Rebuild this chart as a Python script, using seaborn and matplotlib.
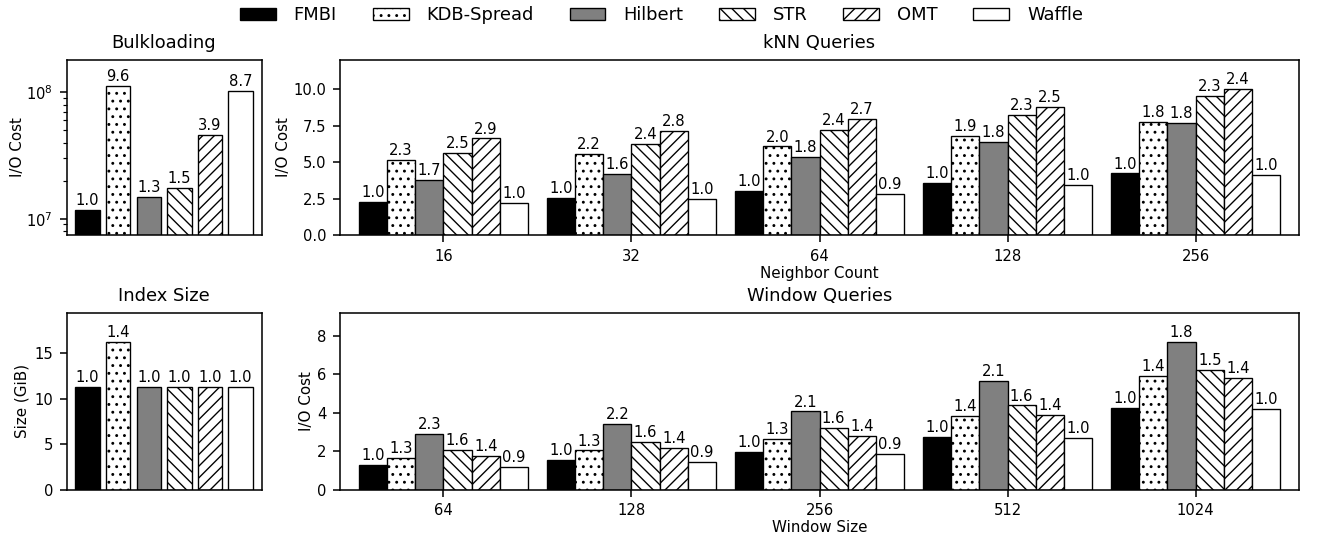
import matplotlib.pyplot as plt
import seaborn as sns
import pandas as pd
from matplotlib.patches import Patch
from matplotlib.ticker import MultipleLocator

methods = ['FMBI', 'KDB-Spread', 'Hilbert', 'STR', 'OMT', 'Waffle']

# bulkloading I/O cost (log scale) and index size in GiB
bulk_cost = [1.17e7, 1.129e8, 1.48e7, 1.766e7, 4.60e7, 1.018e8]
index_size = [11.34, 16.2, 11.3, 11.3, 11.3, 11.3]

# kNN queries, I/O cost per neighbor count
neighbor_counts = ['16', '32', '64', '128', '256']
knn_cost = {
    'FMBI':       [2.26, 2.55, 2.99, 3.54, 4.22],
    'KDB-Spread': [5.16, 5.53, 6.07, 6.80, 7.72],
    'Hilbert':    [3.77, 4.16, 5.32, 6.37, 7.67],
    'STR':        [5.64, 6.21, 7.19, 8.22, 9.54],
    'OMT':        [6.62, 7.15, 7.95, 8.81, 10.0],
    'Waffle':     [2.19, 2.44, 2.81, 3.40, 4.11],
}

# window queries, I/O cost per window size
window_sizes = ['64', '128', '256', '512', '1024']
window_cost = {
    'FMBI':       [1.27, 1.53, 1.97, 2.74, 4.25],
    'KDB-Spread': [1.66, 2.03, 2.63, 3.83, 5.91],
    'Hilbert':    [2.88, 3.41, 4.06, 5.65, 7.65],
    'STR':        [2.05, 2.47, 3.19, 4.37, 6.20],
    'OMT':        [1.74, 2.18, 2.79, 3.89, 5.80],
    'Waffle':     [1.19, 1.43, 1.85, 2.68, 4.20],
}

colors = ['black', 'white', 'gray', 'white', 'white', 'white']
hatches = ['', '...', '', '\\\\\\\\', '////', '']

plt.rcParams['hatch.linewidth'] = 0.7
TICK_FS = 7.6
BAR_FS = 7.6
LABEL_FS = 7.8
TITLE_FS = 9.2


def style_bars(ax):
    # ax.containers: one container per method (hue level)
    for i, cont in enumerate(ax.containers):
        for bar in cont:
            bar.set_hatch(hatches[i])
            bar.set_edgecolor('black')
            bar.set_linewidth(0.7)


def single_panel(ax, values, title, ylabel, ypad=1.5):
    df = pd.DataFrame({'method': methods, 'value': values})
    sns.barplot(data=df, x='method', y='value', hue='method', palette=colors,
                width=0.8, saturation=1, errorbar=None, legend=False, ax=ax)
    style_bars(ax)
    for cont, v in zip(ax.containers, values):
        ax.bar_label(cont, labels=[f'{v / values[0]:.1f}'], padding=1, fontsize=BAR_FS)
    ax.set_xlim(-0.69, 5.69)
    ax.set_xticks([])
    ax.set_xlabel('')
    ax.set_ylabel(ylabel, fontsize=LABEL_FS, labelpad=ypad)
    ax.set_title(title, fontsize=TITLE_FS)
    ax.tick_params(labelsize=TICK_FS)


def group_panel(ax, cats, data, title, xlabel):
    rows = []
    for m in methods:
        for c, v in zip(cats, data[m]):
            rows.append({'cat': c, 'method': m, 'value': v})
    df = pd.DataFrame(rows)
    sns.barplot(data=df, x='cat', y='value', hue='method', hue_order=methods,
                palette=colors, width=0.9, saturation=1, errorbar=None,
                legend=False, ax=ax)
    style_bars(ax)
    base = data['FMBI']
    for cont, m in zip(ax.containers, methods):
        labels = [f'{v / b:.1f}' for v, b in zip(data[m], base)]
        ax.bar_label(cont, labels=labels, padding=1, fontsize=BAR_FS)
    top = max(max(v) for v in data.values())
    ax.set_ylim(0, top * 1.2)
    ax.set_xlim(-0.55, 4.55)
    ax.set_xlabel(xlabel, fontsize=LABEL_FS, labelpad=1)
    ax.set_ylabel('I/O Cost', fontsize=LABEL_FS, labelpad=1.5)
    ax.set_title(title, fontsize=TITLE_FS)
    ax.tick_params(labelsize=TICK_FS)


fig = plt.figure(figsize=(1323 / 140, 539 / 140))
ax_bulk = fig.add_axes([0.0503, 0.564, 0.1474, 0.3247])
ax_knn = fig.add_axes([0.257, 0.564, 0.7249, 0.3247])
ax_size = fig.add_axes([0.0503, 0.0918, 0.1474, 0.3275])
ax_win = fig.add_axes([0.257, 0.0918, 0.7249, 0.3275])

single_panel(ax_bulk, bulk_cost, 'Bulkloading', 'I/O Cost', ypad=0.5)
ax_bulk.set_yscale('log')
ax_bulk.set_ylim(min(bulk_cost) / 1.575, max(bulk_cost) * 1.6)

single_panel(ax_size, index_size, 'Index Size', 'Size (GiB)', ypad=2.5)
ax_size.set_ylim(0, max(index_size) * 1.2)
ax_size.yaxis.set_major_locator(MultipleLocator(5))

group_panel(ax_knn, neighbor_counts, knn_cost, 'kNN Queries', 'Neighbor Count')
ax_knn.yaxis.set_major_locator(MultipleLocator(2.5))
ax_knn.yaxis.set_major_formatter('{x:.1f}')

group_panel(ax_win, window_sizes, window_cost, 'Window Queries', 'Window Size')
ax_win.yaxis.set_major_locator(MultipleLocator(2))

handles = [Patch(facecolor=c, edgecolor='black', hatch=h, linewidth=0.7, label=m)
           for m, c, h in zip(methods, colors, hatches)]
fig.legend(handles=handles, loc='center', bbox_to_anchor=(0.5, 0.972), ncol=6,
           frameon=False, fontsize=TITLE_FS, columnspacing=2.0, handletextpad=1.0)

fig.savefig('out.png', dpi=140)
plt.close()
